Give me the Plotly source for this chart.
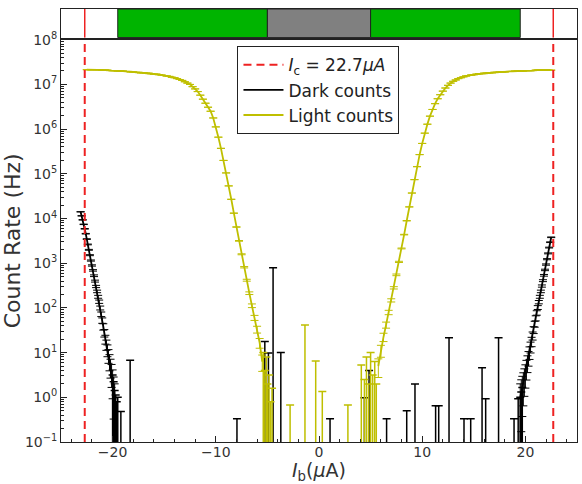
import numpy as np
import plotly.graph_objects as go

# ---------------- data ----------------
ic_value = 22.7                      # critical current, uA
ic_lines_x = [-22.7, 22.7]

band_starts = [-19.5, -5.0, 5.0]     # top status bar regions (uA)
band_ends = [-5.0, 5.0, 19.5]
band_colors = ["#00b400", "#808080", "#00b400"]

# light counts: (bias current uA, log10 count rate)
light_left = [
    (-22.50, 7.33), (-22.25, 7.33), (-22.00, 7.33), (-21.75, 7.33), (-21.50, 7.33),
    (-21.25, 7.33), (-21.00, 7.32), (-20.75, 7.32), (-20.50, 7.32), (-20.25, 7.31),
    (-20.00, 7.31), (-19.75, 7.31), (-19.50, 7.30), (-19.25, 7.30), (-19.00, 7.30),
    (-18.75, 7.29), (-18.50, 7.29), (-18.25, 7.28), (-18.00, 7.28), (-17.75, 7.27),
    (-17.50, 7.27), (-17.25, 7.26), (-17.00, 7.26), (-16.75, 7.25), (-16.50, 7.25),
    (-16.25, 7.24), (-16.00, 7.23), (-15.75, 7.23), (-15.50, 7.22), (-15.25, 7.21),
    (-15.00, 7.20), (-14.75, 7.19), (-14.50, 7.18), (-14.25, 7.16), (-14.00, 7.15),
    (-13.75, 7.13), (-13.50, 7.11), (-13.25, 7.09), (-13.00, 7.06), (-12.75, 7.03),
    (-12.50, 7.00), (-12.25, 6.95), (-12.00, 6.90), (-11.75, 6.84), (-11.50, 6.76),
    (-11.25, 6.67), (-11.00, 6.58), (-10.75, 6.49), (-10.50, 6.40), (-10.25, 6.25),
    (-10.00, 6.05), (-9.75, 5.82), (-9.50, 5.57), (-9.25, 5.30), (-9.00, 5.02),
    (-8.75, 4.73), (-8.50, 4.43), (-8.25, 4.12), (-8.00, 3.81), (-7.75, 3.50),
    (-7.50, 3.20), (-7.25, 2.91), (-7.00, 2.62), (-6.75, 2.33), (-6.50, 2.05),
    (-6.25, 1.78), (-6.00, 1.52), (-5.75, 1.22), (-5.50, 0.80),
]
light_right = [
    (5.75, 0.70), (6.00, 1.05), (6.25, 1.35), (6.50, 1.62), (6.75, 1.90),
    (7.00, 2.17), (7.25, 2.45), (7.50, 2.74), (7.75, 3.03), (8.00, 3.33),
    (8.25, 3.64), (8.50, 3.95), (8.75, 4.26), (9.00, 4.57), (9.25, 4.87),
    (9.50, 5.16), (9.75, 5.43), (10.00, 5.68), (10.25, 5.91), (10.50, 6.11),
    (10.75, 6.29), (11.00, 6.44), (11.25, 6.57), (11.50, 6.68), (11.75, 6.77),
    (12.00, 6.85), (12.25, 6.92), (12.50, 6.98), (12.75, 7.03), (13.00, 7.07),
    (13.25, 7.10), (13.50, 7.13), (13.75, 7.15), (14.00, 7.17), (14.25, 7.19),
    (14.50, 7.20), (14.75, 7.21), (15.00, 7.22), (15.25, 7.23), (15.50, 7.24),
    (15.75, 7.24), (16.00, 7.25), (16.25, 7.25), (16.50, 7.26), (16.75, 7.26),
    (17.00, 7.27), (17.25, 7.27), (17.50, 7.28), (17.75, 7.28), (18.00, 7.28),
    (18.25, 7.29), (18.50, 7.29), (18.75, 7.29), (19.00, 7.30), (19.25, 7.30),
    (19.50, 7.30), (19.75, 7.30), (20.00, 7.31), (20.25, 7.31), (20.50, 7.31),
    (20.75, 7.31), (21.00, 7.32), (21.25, 7.32), (21.50, 7.32), (21.75, 7.32),
    (22.00, 7.32), (22.25, 7.32), (22.50, 7.32),
]
# isolated light-count spikes near zero bias: (uA, log10 of upper error cap)
light_spikes = [
    (-5.40, 1.00), (-5.25, 0.60), (-5.10, 0.90), (-5.00, 0.30), (-4.85, 0.50),
    (-4.70, -0.10), (-4.55, 0.20), (-2.80, -0.17), (-1.36, 1.62), (-0.32, 0.81),
    (0.32, 0.13), (2.80, -0.17), (4.10, 0.72), (4.40, 0.40), (4.60, 0.90),
    (4.80, 0.30), (5.00, 1.00), (5.20, 0.50), (5.40, 0.80), (5.55, 0.30),
]

# dark counts
dark_left = [
    (-23.1, 4.15), (-23.0, 4.06), (-22.9, 3.97), (-22.8, 3.87), (-22.7, 3.77),
    (-22.6, 3.66), (-22.5, 3.54), (-22.4, 3.42), (-22.3, 3.30), (-22.2, 3.18),
    (-22.1, 3.06), (-22.0, 2.95), (-21.9, 2.84), (-21.8, 2.72), (-21.7, 2.60),
    (-21.6, 2.48), (-21.5, 2.37), (-21.4, 2.25), (-21.3, 2.14), (-21.2, 2.00),
    (-21.1, 1.86), (-21.0, 1.72), (-20.9, 1.58), (-20.8, 1.44), (-20.7, 1.30),
    (-20.6, 1.18), (-20.5, 1.06), (-20.4, 0.94), (-20.3, 0.81), (-20.2, 0.69),
    (-20.1, 0.55), (-20.0, 0.40), (-19.9, 0.20), (-19.8, 0.00),
]
dark_right = [
    (19.5, 0.00), (19.6, 0.12), (19.7, 0.22), (19.8, 0.32), (19.9, 0.43),
    (20.0, 0.54), (20.1, 0.66), (20.2, 0.78), (20.3, 0.89), (20.4, 1.01),
    (20.5, 1.13), (20.6, 1.25), (20.7, 1.38), (20.8, 1.51), (20.9, 1.64),
    (21.0, 1.77), (21.1, 1.89), (21.2, 2.01), (21.3, 2.13), (21.4, 2.25),
    (21.5, 2.37), (21.6, 2.49), (21.7, 2.61), (21.8, 2.73), (21.9, 2.85),
    (22.0, 2.97), (22.1, 3.09), (22.2, 3.22), (22.3, 3.35), (22.4, 3.47),
    (22.5, 3.58),
]
dark_spikes = [
    (-20.0, 0.50), (-19.9, 0.35), (-19.8, 0.15), (-19.7, 0.05), (-19.6, -0.10),
    (-19.5, 0.00), (-19.2, -0.32), (-18.3, 0.83), (-7.95, -0.48), (-5.25, 1.25),
    (-4.90, 0.99), (-4.45, 2.90), (-3.70, 1.00), (1.07, -0.48), (4.40, -0.01),
    (4.85, 0.60), (6.55, -0.48), (8.50, -0.30), (9.30, 0.30), (11.30, -0.19),
    (11.60, -0.19), (12.60, 1.33), (14.05, -0.48), (14.70, -0.48), (15.80, 0.66),
    (16.15, -0.03), (17.40, 1.33), (18.90, -0.48), (19.30, -0.03), (19.50, 0.00),
    (19.60, 0.12), (19.70, 0.22),
]

x_ticks = [-20, -10, 0, 10, 20]
y_tick_exps = [-1, 0, 1, 2, 3, 4, 5, 6, 7, 8]

# ---------------- styling ----------------
FONT = "DejaVu Sans"
TXT = "#333333"
LIGHT = "#bfbf00"
DARK = "#000000"
RED = "#ee2222"


def unpack(pairs):
    xs = [p[0] for p in pairs]
    ys = (10.0 ** np.array([p[1] for p in pairs])).tolist()
    return xs, ys


fig = go.Figure()


def add_curve(pairs, color, name, show, rank):
    xs, ys = unpack(pairs)
    fig.add_trace(go.Scatter(
        x=xs, y=ys, mode="lines", name=name, legendgroup=name,
        showlegend=show, legendrank=rank,
        line=dict(color=color, width=1.8),
        error_y=dict(type="sqrt", color=color, thickness=1, width=4),
        xaxis="x", yaxis="y", hoverinfo="skip",
    ))


def add_spikes(pairs, color, name, rank):
    xs, ys = unpack(pairs)
    fig.add_trace(go.Scatter(
        x=xs, y=ys, mode="markers", name=name, legendgroup=name,
        showlegend=False, legendrank=rank,
        marker=dict(size=1, color=color, opacity=0),
        error_y=dict(type="data", symmetric=False, array=[0.0] * len(ys),
                     arrayminus=ys, color=color, thickness=1.5, width=4),
        xaxis="x", yaxis="y", hoverinfo="skip",
    ))


add_curve(dark_left, DARK, "Dark counts", True, 2)
add_curve(dark_right, DARK, "Dark counts", False, 2)
add_spikes(dark_spikes, DARK, "Dark counts", 2)
add_curve(light_left, LIGHT, "Light counts", True, 3)
add_curve(light_right, LIGHT, "Light counts", False, 3)
add_spikes(light_spikes, LIGHT, "Light counts", 3)

shapes = []
# top status bar
for s, e, c in zip(band_starts, band_ends, band_colors):
    shapes.append(dict(type="rect", xref="x2", yref="y2 domain", x0=s, x1=e,
                       y0=0, y1=1, fillcolor=c, line=dict(color="#222222", width=1),
                       layer="below"))
for i, xv in enumerate(ic_lines_x):
    shapes.append(dict(type="line", xref="x2", yref="y2 domain", x0=xv, x1=xv,
                       y0=0, y1=1, line=dict(color=RED, width=1.5), layer="above"))
    shapes.append(dict(type="line", xref="x", yref="y domain", x0=xv, x1=xv,
                       y0=0, y1=1, line=dict(color=RED, width=2, dash="8px,5px"),
                       layer="above",
                       name="<i>I</i><sub>c</sub> = %.1f<i>μA</i>" % ic_value,
                       showlegend=(i == 0), legendgroup="ic", legendrank=1))

axis_common = dict(showline=True, linecolor="#222222", linewidth=1, mirror=True,
                   showgrid=False, zeroline=False)

fig.update_layout(
    width=582, height=484,
    margin=dict(l=61, r=5, t=9, b=42),
    paper_bgcolor="white", plot_bgcolor="white",
    font=dict(family=FONT, color=TXT, size=14),
    shapes=shapes,
    showlegend=True,
    legend=dict(x=0.342, y=0.914, xanchor="left", yanchor="top",
                bgcolor="white", bordercolor="#222222", borderwidth=1,
                font=dict(family=FONT, size=17, color="#222222"),
                tracegroupgap=0, itemwidth=40),
    xaxis=dict(**axis_common, domain=[0, 1], anchor="y", range=[-25, 25],
               tickmode="array", tickvals=x_ticks, ticks="inside", ticklen=6,
               tickcolor="#222222", ticklabelstandoff=-3,
               minor=dict(dtick=2, ticks="inside", ticklen=3, tickcolor="#222222"),
               tickfont=dict(family=FONT, size=14, color=TXT),
               title=dict(text="<i>I</i><sub>b</sub>(<i>μ</i>A)",
                          font=dict(family=FONT, size=19, color=TXT), standoff=9),
               automargin=False),
    yaxis=dict(**axis_common, domain=[0, 0.929], anchor="x", type="log",
               range=[-1, 8], tickmode="array",
               tickvals=[10.0 ** k for k in y_tick_exps],
               ticktext=["10<sup>%s</sup>" % (str(k).replace("-", "−")) for k in y_tick_exps],
               ticks="inside", ticklen=6, tickcolor="#222222",
               minor=dict(dtick="D1", ticks="inside", ticklen=3, tickcolor="#222222"),
               tickfont=dict(family=FONT, size=14, color=TXT),
               title=dict(text="Count Rate (Hz)",
                          font=dict(family=FONT, size=22, color=TXT), standoff=2),
               automargin=False),
    xaxis2=dict(**axis_common, domain=[0, 1], anchor="y2", range=[-25, 25],
                showticklabels=False, ticks=""),
    yaxis2=dict(**axis_common, domain=[0.934, 1], anchor="x2", range=[0, 1],
                showticklabels=False, ticks=""),
)

fig.write_html("out.html", include_plotlyjs=True, config={"displayModeBar": False})
